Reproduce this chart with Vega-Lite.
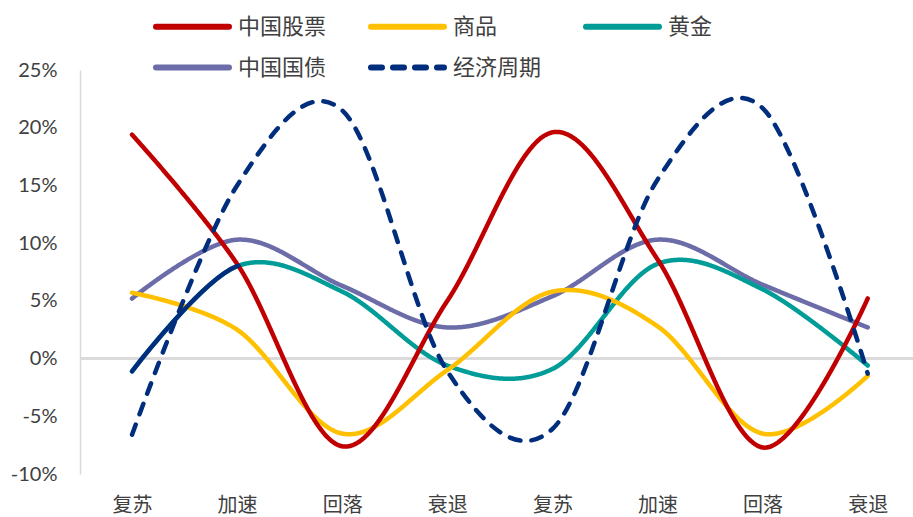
{
  "$schema": "https://vega.github.io/schema/vega-lite/v6.json",
  "width": 833,
  "height": 404,
  "autosize": {"type": "none"},
  "padding": {"left": 80, "top": 70, "right": 0, "bottom": 43},
  "background": "white",
  "config": {"view": {"stroke": null}},
  "data": {
    "values": [
      {"series": "中国国债", "i": 0, "pct": 5.2},
      {"series": "中国国债", "i": 1, "pct": 10.3},
      {"series": "中国国债", "i": 2, "pct": 6.3},
      {"series": "中国国债", "i": 3, "pct": 2.7},
      {"series": "中国国债", "i": 4, "pct": 5.4},
      {"series": "中国国债", "i": 5, "pct": 10.3},
      {"series": "中国国债", "i": 6, "pct": 6.4},
      {"series": "中国国债", "i": 7, "pct": 2.7},
      {"series": "黄金", "i": 0, "pct": -1.1},
      {"series": "黄金", "i": 1, "pct": 8.0},
      {"series": "黄金", "i": 2, "pct": 5.8},
      {"series": "黄金", "i": 3, "pct": -0.6},
      {"series": "黄金", "i": 4, "pct": -0.9},
      {"series": "黄金", "i": 5, "pct": 8.2},
      {"series": "黄金", "i": 6, "pct": 6.0},
      {"series": "黄金", "i": 7, "pct": -0.6},
      {"series": "商品", "i": 0, "pct": 5.7},
      {"series": "商品", "i": 1, "pct": 2.5},
      {"series": "商品", "i": 2, "pct": -6.5},
      {"series": "商品", "i": 3, "pct": -1.0},
      {"series": "商品", "i": 4, "pct": 5.8},
      {"series": "商品", "i": 5, "pct": 2.8},
      {"series": "商品", "i": 6, "pct": -6.5},
      {"series": "商品", "i": 7, "pct": -1.5},
      {"series": "中国股票", "i": 0, "pct": 19.4},
      {"series": "中国股票", "i": 1, "pct": 8.2},
      {"series": "中国股票", "i": 2, "pct": -7.6},
      {"series": "中国股票", "i": 3, "pct": 5.0},
      {"series": "中国股票", "i": 4, "pct": 19.6},
      {"series": "中国股票", "i": 5, "pct": 8.6},
      {"series": "中国股票", "i": 6, "pct": -7.7},
      {"series": "中国股票", "i": 7, "pct": 5.2},
      {"series": "经济周期", "i": 0, "pct": -6.6},
      {"series": "经济周期", "i": 1, "pct": 15.0},
      {"series": "经济周期", "i": 2, "pct": 21.5},
      {"series": "经济周期", "i": 3, "pct": -1.1},
      {"series": "经济周期", "i": 4, "pct": -6.1},
      {"series": "经济周期", "i": 5, "pct": 15.5},
      {"series": "经济周期", "i": 6, "pct": 21.7},
      {"series": "经济周期", "i": 7, "pct": -1.3}
    ]
  },
  "encoding": {
    "x": {
      "field": "i",
      "type": "quantitative",
      "scale": {"domain": [-0.495, 7.431], "nice": false, "zero": false},
      "axis": {
        "title": null,
        "values": [0, 1, 2, 3, 4, 5, 6, 7],
        "labelExpr": "['复苏', '加速', '回落', '衰退'][datum.value % 4]",
        "domain": false,
        "ticks": false,
        "grid": false,
        "labelFlush": false,
        "labelOverlap": false,
        "labelPadding": 21,
        "labelFont": "Noto Sans CJK SC",
        "labelFontSize": 20,
        "labelColor": "#404040"
      }
    },
    "y": {
      "field": "pct",
      "type": "quantitative",
      "scale": {"domain": [-10, 25], "nice": false, "zero": false},
      "axis": {
        "title": null,
        "values": [-10, -5, 0, 5, 10, 15, 20, 25],
        "labelExpr": "datum.value + '%'",
        "domain": true,
        "domainColor": "#d9d9d9",
        "domainWidth": 1.5,
        "ticks": false,
        "grid": false,
        "labelPadding": 23,
        "labelFont": "Lato",
        "labelFontSize": 20,
        "labelColor": "#404040",
        "labelOverlap": false
      }
    }
  },
  "layer": [
    {
      "mark": {"type": "rule", "color": "#d9d9d9", "strokeWidth": 1.5},
      "encoding": {"y": {"datum": 0}, "x": null}
    },
    {
      "mark": {"type": "line", "interpolate": "cardinal", "strokeWidth": 4.5, "strokeCap": "round"},
      "encoding": {
        "color": {
          "field": "series",
          "type": "nominal",
          "scale": {
            "domain": ["中国股票", "商品", "黄金", "中国国债", "经济周期"],
            "range": ["#C00000", "#FFC000", "#009C97", "#6B6CA8", "#002E7D"]
          },
          "legend": {
            "title": null,
            "orient": "none",
            "legendX": 100,
            "legendY": -56,
            "direction": "horizontal",
            "columns": 3,
            "gridAlign": "all",
            "symbolType": "M-4,0H4",
            "symbolSize": 333,
            "symbolStrokeWidth": 6,
            "labelOffset": 33,
            "labelFont": "Noto Sans CJK SC",
            "labelFontSize": 22,
            "labelColor": "#404040",
            "labelLimit": 300,
            "columnPadding": 32,
            "rowPadding": 16,
            "encode": {"symbols": {"update": {"strokeCap": {"value": "round"}}}}
          }
        },
        "strokeDash": {
          "field": "series",
          "type": "nominal",
          "scale": {
            "domain": ["中国股票", "商品", "黄金", "中国国债", "经济周期"],
            "range": [[1, 0], [1, 0], [1, 0], [1, 0], [11, 11]]
          }
        }
      }
    },
    {
      "transform": [{"filter": "datum.series === '黄金'"}],
      "mark": {
        "type": "line",
        "interpolate": "cardinal",
        "strokeWidth": 4.5,
        "strokeCap": "round",
        "color": "#002E7D",
        "strokeDash": [151, 3000]
      }
    }
  ]
}
